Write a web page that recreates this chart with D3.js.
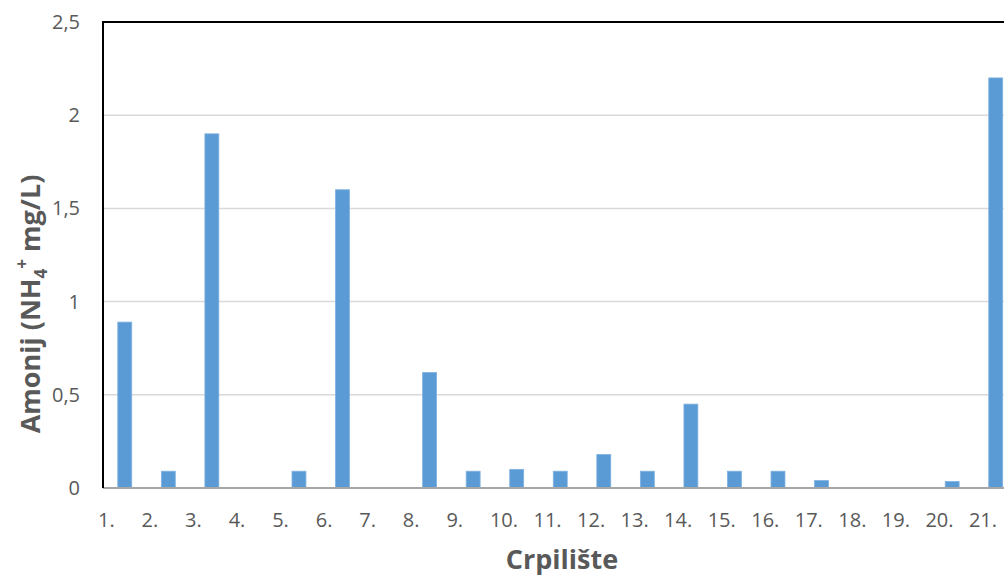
<!DOCTYPE html>
<html>
<meta charset="utf-8">
<style>
body { margin: 0; background: #fff; }
text { font-family: "Open Sans", sans-serif; }
</style>
<script src="https://d3js.org/d3.v7.min.js"></script>
<body>
<div id="my_dataviz"></div>
<script>
// data
var categories = ["1.", "2.", "3.", "4.", "5.", "6.", "7.", "8.", "9.", "10.", "11.",
                  "12.", "13.", "14.", "15.", "16.", "17.", "18.", "19.", "20.", "21."];
var values = [0.89, 0.09, 1.9, 0.002, 0.09, 1.6, 0.002, 0.62, 0.09, 0.1, 0.09,
              0.18, 0.09, 0.45, 0.09, 0.09, 0.04, 0.002, 0.002, 0.035, 2.2];
var yTicks = [0, 0.5, 1, 1.5, 2, 2.5];

var width = 1004, height = 576;
// plot area runs past the right edge of the picture
var margin = {top: 22, left: 103, bottom: 88};
var plotW = 914.5;
var plotH = height - margin.top - margin.bottom;

var svg = d3.select("#my_dataviz")
  .append("svg")
    .attr("width", width)
    .attr("height", height);

var g = svg.append("g")
    .attr("transform", "translate(" + margin.left + "," + margin.top + ")");

var x = d3.scaleBand()
  .domain(categories)
  .range([0, plotW])
  .paddingInner(0.68)
  .paddingOuter(0.34);

var y = d3.scaleLinear()
  .domain([0, 2.5])
  .range([plotH, 0]);

// gridlines
g.selectAll(".grid")
  .data(yTicks.slice(1))
  .enter()
  .append("line")
    .attr("x1", 0)
    .attr("x2", plotW)
    .attr("y1", function(d) { return y(d); })
    .attr("y2", function(d) { return y(d); })
    .attr("stroke", "#d9d9d9")
    .attr("stroke-width", 1.5);

// y tick labels
g.selectAll(".ylab")
  .data(yTicks)
  .enter()
  .append("text")
    .attr("x", -23)
    .attr("y", function(d) { return y(d); })
    .attr("dy", "0.35em")
    .attr("text-anchor", "end")
    .attr("font-size", 20)
    .attr("fill", "#595959")
    .text(function(d) { return String(d).replace(".", ","); });

// bars
g.selectAll(".bar")
  .data(values)
  .enter()
  .append("rect")
    .attr("x", function(d, i) { return x(categories[i]); })
    .attr("y", function(d) { return y(d); })
    .attr("width", x.bandwidth())
    .attr("height", function(d) { return plotH - y(d); })
    .attr("fill", "#5b9bd5")
    .attr("stroke", "#7fb1e0")
    .attr("stroke-width", 0.8);

// bottom axis line
g.append("line")
  .attr("x1", 0).attr("x2", plotW)
  .attr("y1", plotH).attr("y2", plotH)
  .attr("stroke", "#a6a6a6")
  .attr("stroke-width", 2);

// x labels, left-aligned near each band start
var step = x.step();
g.selectAll(".xlab")
  .data(categories)
  .enter()
  .append("text")
    .attr("x", function(d, i) { return i * step - 5; })
    .attr("y", plotH + 39)
    .attr("font-size", 20)
    .attr("fill", "#595959")
    .text(function(d) { return d; });

// black border top and left
g.append("path")
  .attr("d", "M0," + plotH + "V0H" + plotW)
  .attr("fill", "none")
  .attr("stroke", "#000")
  .attr("stroke-width", 2);

// axis titles
svg.append("text")
  .attr("x", 562)
  .attr("y", 569)
  .attr("text-anchor", "middle")
  .attr("font-size", 27)
  .attr("font-weight", "bold")
  .attr("fill", "#595959")
  .text("Crpilište");

var yt = svg.append("text")
  .attr("transform", "translate(40,304) rotate(-90)")
  .attr("text-anchor", "middle")
  .attr("font-size", 27)
  .attr("font-weight", "bold")
  .attr("fill", "#595959");
yt.append("tspan").text("Amonij (NH");
yt.append("tspan").attr("font-size", 17).attr("dy", 7).text("4");
yt.append("tspan").attr("font-size", 17).attr("dy", -19).text("+");
yt.append("tspan").attr("dy", 12).text(" mg/L)");
</script>
</body>
</html>
